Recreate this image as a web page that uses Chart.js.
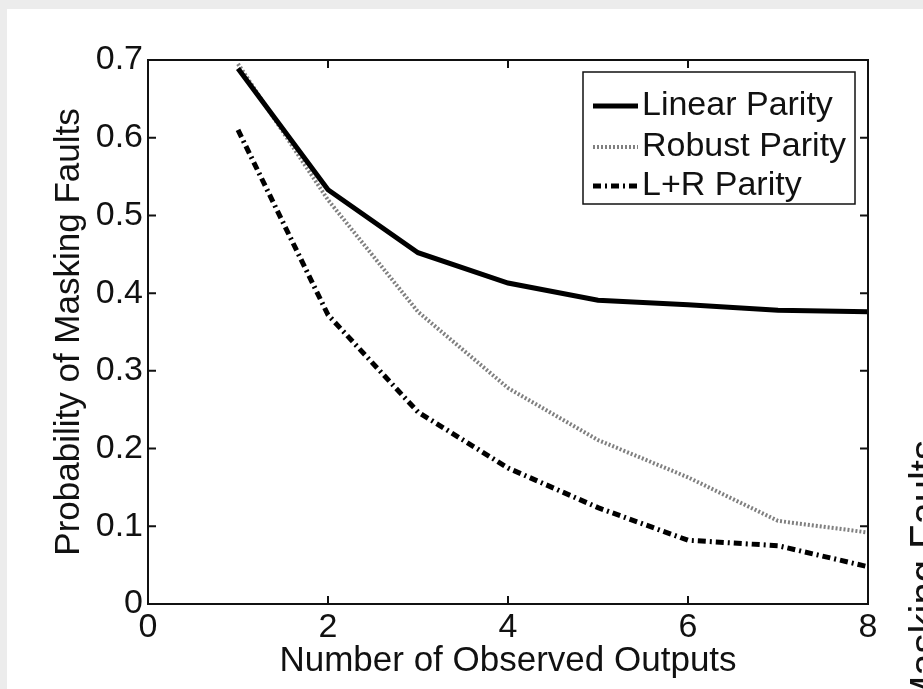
<!DOCTYPE html>
<html>
<head>
<meta charset="utf-8">
<script src="https://cdn.jsdelivr.net/npm/chart.js@4/dist/chart.umd.min.js"></script>
<style>
    body { margin: 0; background: #ececec; overflow: hidden; width: 923px; height: 689px; }
    #panel { position: absolute; left: 7px; top: 9px; width: 916px; height: 680px; background: #fff; }
    #next-label {
        position: absolute; left: 904px; top: 709px;
        transform-origin: left top; transform: rotate(-90deg);
        font: 40px "Liberation Sans", Arial, sans-serif; line-height: 40px;
        white-space: nowrap; color: #111;
    }
</style>
</head>
<body>
<div id="panel"><canvas id="masking-chart" width="916" height="680"></canvas></div>
<div id="next-label">Masking Faults</div>
<script>
const observedOutputs = [1, 2, 3, 4, 5, 6, 7, 8];
const linearParity = [0.689, 0.533, 0.452, 0.413, 0.391, 0.385, 0.378, 0.376];
const robustParity = [0.695, 0.520, 0.376, 0.278, 0.211, 0.163, 0.107, 0.092];
const lrParity = [0.610, 0.372, 0.247, 0.175, 0.124, 0.082, 0.075, 0.048];
const xTicks = [0, 2, 4, 6, 8];
const yTicks = [0, 0.1, 0.2, 0.3, 0.4, 0.5, 0.6, 0.7];

const FONT = '"Liberation Sans", Arial, sans-serif';
const toPoints = vals => vals.map((v, i) => ({ x: observedOutputs[i], y: v }));

// matlab style box with inward ticks on all four sides
const boxFrame = {
    id: 'boxFrame',
    afterDatasetsDraw(chart) {
        const { ctx, chartArea: a, scales: { x, y } } = chart;
        ctx.save();
        ctx.strokeStyle = '#111';
        ctx.lineWidth = 2;
        ctx.strokeRect(a.left, a.top, a.right - a.left, a.bottom - a.top);
        ctx.beginPath();
        xTicks.slice(1, -1).forEach(v => {
            const px = x.getPixelForValue(v);
            ctx.moveTo(px, a.bottom); ctx.lineTo(px, a.bottom - 8);
            ctx.moveTo(px, a.top); ctx.lineTo(px, a.top + 8);
        });
        yTicks.slice(1, -1).forEach(v => {
            const py = y.getPixelForValue(v);
            ctx.moveTo(a.left, py); ctx.lineTo(a.left + 8, py);
            ctx.moveTo(a.right, py); ctx.lineTo(a.right - 8, py);
        });
        ctx.stroke();
        ctx.restore();
    }
};

const boxLegend = {
    id: 'boxLegend',
    afterDraw(chart) {
        const { ctx, chartArea: a } = chart;
        const w = 272, h = 132;
        const left = a.right - 13 - w, top = a.top + 12;
        ctx.save();
        ctx.fillStyle = '#fff';
        ctx.fillRect(left, top, w, h);
        ctx.strokeStyle = '#111';
        ctx.lineWidth = 1.5;
        ctx.strokeRect(left, top, w, h);
        const rows = [34, 75, 114];
        chart.data.datasets.forEach((ds, i) => {
            const ry = top + rows[i];
            ctx.beginPath();
            ctx.setLineDash(ds.borderDash || []);
            ctx.strokeStyle = ds.borderColor;
            ctx.lineWidth = ds.borderWidth;
            ctx.moveTo(left + 10, ry);
            ctx.lineTo(left + 55, ry);
            ctx.stroke();
            ctx.setLineDash([]);
            ctx.fillStyle = '#111';
            ctx.font = '34px ' + FONT;
            ctx.textBaseline = 'middle';
            ctx.fillText(ds.label, left + 59, ry);
        });
        ctx.restore();
    }
};

const ctx = document.getElementById('masking-chart').getContext('2d');
const maskingChart = new Chart(ctx, {
    type: 'line',
    data: {
        datasets: [
            {
                label: 'Linear Parity',
                data: toPoints(linearParity),
                borderColor: '#000',
                borderWidth: 5,
            },
            {
                label: 'Robust Parity',
                data: toPoints(robustParity),
                borderColor: '#808080',
                borderWidth: 4,
                borderDash: [2, 2],
            },
            {
                label: 'L+R Parity',
                data: toPoints(lrParity),
                borderColor: '#000',
                borderWidth: 5,
                borderDash: [8, 4, 2, 4],
            },
        ],
    },
    options: {
        responsive: false,
        animation: false,
        layout: { padding: { top: 51, right: 55, left: 0, bottom: 0 } },
        elements: { point: { radius: 0 }, line: { tension: 0 } },
        plugins: { legend: { display: false }, tooltip: { enabled: false } },
        scales: {
            x: {
                type: 'linear',
                min: 0,
                max: 8,
                afterFit(s) { s.height = 85; },
                afterBuildTicks(s) { s.ticks = xTicks.map(v => ({ value: v })); },
                grid: { display: false, drawTicks: false },
                border: { display: false },
                ticks: { padding: 3, color: '#111', font: { family: FONT, size: 34 } },
                title: {
                    display: true,
                    text: 'Number of Observed Outputs',
                    color: '#111',
                    font: { family: FONT, size: 35 },
                    padding: { top: 0, bottom: 7 },
                },
            },
            y: {
                min: 0,
                max: 0.7,
                afterFit(s) { s.width = 141; },
                afterBuildTicks(s) { s.ticks = yTicks.map(v => ({ value: v })); },
                grid: { display: false, drawTicks: false },
                border: { display: false },
                ticks: {
                    padding: 5,
                    color: '#111',
                    font: { family: FONT, size: 34 },
                    callback: v => v === 0 ? '0' : v.toFixed(1),
                },
                title: {
                    display: true,
                    text: 'Probability of Masking Faults',
                    color: '#111',
                    font: { family: FONT, size: 35 },
                    padding: { top: 41, bottom: 0 },
                },
            },
        },
    },
    plugins: [boxFrame, boxLegend],
});
</script>
</body>
</html>
